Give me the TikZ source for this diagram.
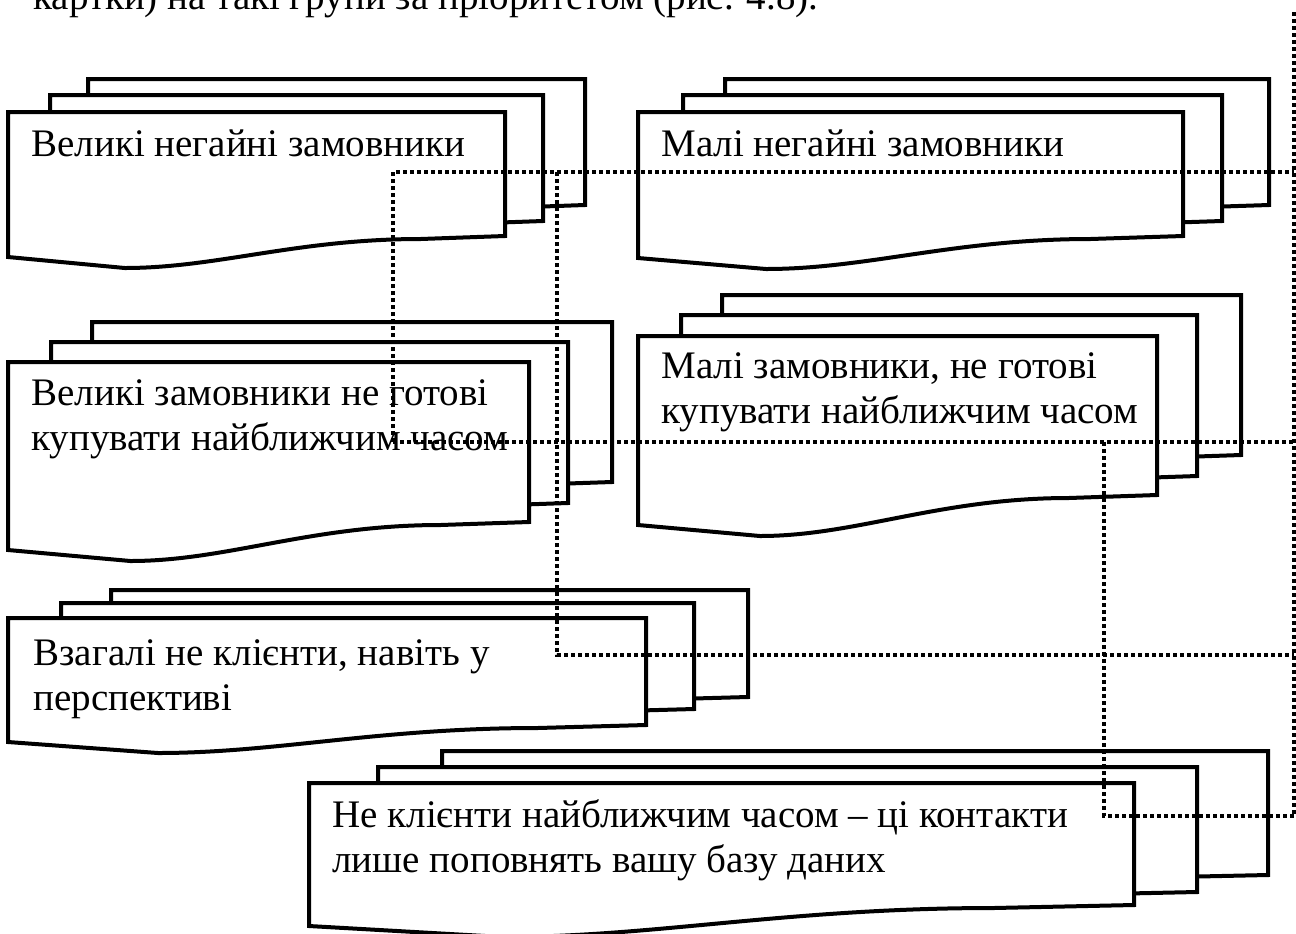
\documentclass[tikz,border=0pt]{standalone}
\usepackage{fontspec}
\setmainfont{Liberation Serif}
\usepackage{tikz}

\begin{document}
\begin{tikzpicture}[x=0.5pt,y=-0.5pt]
  \tikzset{
    sheet/.style={draw=black,fill=white,line width=2pt,line join=miter},
    label/.style={anchor=base west,inner sep=0pt,align=left,font=\fontsize{19.5}{22.5}\selectfont},
    link/.style={line width=1.8pt,line cap=butt,dash pattern=on 1.8pt off 1.7pt}
  }
  \useasboundingbox (0,0) rectangle (1296,933);
  \node[label] (caption) at (33,9) {картки) на такі групи за пріоритетом (рис. 4.8).};
  \foreach \xl/\xr/\yt/\yl/\yr in {%
      88/585/79/226/205, 50/543/95/242/221, 8/505/112/257/236,
      725/1269/79/226/205, 683/1222/95/242/221, 638/1183/112/258/236,
      92/612/322/510/482, 51/568/342/531/503, 8/529/362/550/522,
      722/1241/295/485/455, 681/1197/315/506/476, 638/1157/336/525/495,
      111/748/590/714/697, 61/694/603/726/709, 8/646/618/742/725,
      442/1268/751/896/875, 378/1197/767/913/892, 309/1134/783/926/905}{%
    \pgfmathsetmacro\xa{\xl+0.83*(\xr-\xl)}
    \pgfmathsetmacro\xb{\xl+0.58*(\xr-\xl)}
    \pgfmathsetmacro\xc{\xl+0.42*(\xr-\xl)}
    \pgfmathsetmacro\xd{\xl+0.235*(\xr-\xl)}
    \pgfmathsetmacro\ya{\yr+3}
    \pgfmathsetmacro\yb{\yl+11}
    \draw[sheet] (\xl,\yt) -- (\xr,\yt) -- (\xr,\yr) -- (\xa,\ya)
      .. controls (\xb,\ya) and (\xc,\yb) .. (\xd,\yb) -- (\xl,\yl) -- cycle;
  }
  \node[label] (bignow) at (31,156) {Великі негайні замовники};
  \node[label] (smallnow) at (661,156) {Малі негайні замовники};
  \node[label] (biglater) at (31,450) {Великі замовники не готові\\купувати найближчим часом};
  \node[label] (smalllater) at (661,423) {Малі замовники, не готові\\купувати найближчим часом};
  \node[label] (never) at (33,710) {Взагалі не клієнти, навіть у\\перспективі};
  \node[label] (base) at (332,872) {Не клієнти найближчим часом -- ці контакти\\лише поповнять вашу базу даних};
  \coordinate (bus) at (1294,12);
  \coordinate (j1) at (1294,172);
  \coordinate (j2) at (1294,442);
  \coordinate (j3) at (1294,655);
  \coordinate (j4) at (1294,816);
  \coordinate (c1) at (393,442);
  \coordinate (c2) at (393,172);
  \coordinate (c3) at (557,172);
  \coordinate (c4) at (557,655);
  \coordinate (c5) at (1104,442);
  \coordinate (c6) at (1104,816);
  \draw[link] (bus) -- (j4);
  \draw[link] (c1) -- (c2) -- (j1);
  \draw[link] (c1) -- (j2);
  \draw[link] (c3) -- (c4) -- (j3);
  \draw[link] (c5) -- (c6) -- (j4);
\end{tikzpicture}
\end{document}
